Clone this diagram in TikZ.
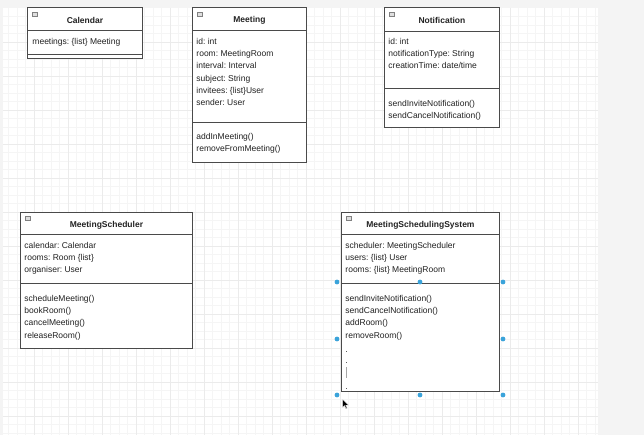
\documentclass[tikz,border=0pt]{standalone}
\usepackage{fontspec}
\setmainfont{Liberation Sans}
\usetikzlibrary{positioning}
\definecolor{umlline}{HTML}{4A4A4A}
\definecolor{umltext}{HTML}{222222}
\definecolor{handleblue}{HTML}{3AA3DA}
\definecolor{gridminor}{HTML}{F5F5F5}
\definecolor{gridmajor}{HTML}{EBEBEB}
\definecolor{canvasgray}{HTML}{F4F4F4}
\frenchspacing

\begin{document}
\begin{tikzpicture}
[x=1pt, y=-1pt, font=\fontsize{8.5}{10}\selectfont, line width=0.9pt,
part/.style={rectangle, draw=umlline, fill=white, inner sep=0pt, anchor=north west},
title/.style={inner sep=0pt, text=umltext, font=\fontsize{8.5}{10}\selectfont\bfseries},
field/.style={anchor=west, inner sep=0pt, text height=6.2pt, text depth=1.8pt, text=umltext},
fold/.style={rectangle, draw=gray, fill=gray!25, line width=0.4pt, inner sep=0pt, minimum size=4.5pt, anchor=north west},
handle/.style={circle, fill=handleblue, inner sep=0pt, minimum size=4.8pt}]

\useasboundingbox (0,0) rectangle (644,435);

% canvas and grid
\fill[canvasgray] (0,0) rectangle (644,435);
\fill[white] (3,8) rectangle (598,435);
\foreach \i in {1,...,70} {
  \draw[gridminor, line width=0.4pt] (\i*8.5,8) -- (\i*8.5,435);
}
\foreach \i in {1,...,50} {
  \draw[gridminor, line width=0.4pt] (3,8+\i*8.5) -- (598,8+\i*8.5);
}
\foreach \i in {1,...,17} {
  \draw[gridmajor, line width=0.5pt] (\i*34,8) -- (\i*34,435);
}
\foreach \i in {1,...,12} {
  \draw[gridmajor, line width=0.5pt] (3,8+\i*34) -- (598,8+\i*34);
}

% Calendar
\node[part, minimum width=115pt, minimum height=23pt] (calhead) at (27,7) {};
\node[part, minimum width=115pt, minimum height=24pt] (calattr) at (27,30) {};
\node[part, minimum width=115pt, minimum height=4pt] (calops) at (27,54) {};
\node[fold] (calfold) at (32,12) {};
\node[title] (caltitle) at ([yshift=-1.5pt]calhead.center) {Calendar};
\node[field] (calattr1) at (32,42) {meetings: \{list\} Meeting};

% Meeting
\node[part, minimum width=114pt, minimum height=23pt] (meethead) at (192,7) {};
\node[part, minimum width=114pt, minimum height=92pt] (meetattr) at (192,30) {};
\node[part, minimum width=114pt, minimum height=40pt] (meetops) at (192,122) {};
\node[fold] (meetfold) at (197,12) {};
\node[title] (meettitle) at ([yshift=-1.5pt]meethead.center) {Meeting};
\foreach \t [count=\i] in {{id: int}, {room: MeetingRoom}, {interval: Interval}, {subject: String}, {invitees: \{list\}User}, {sender: User}} {
  \node[field] (meetattr\i) at (196,{42+12.3*(\i-1)}) {\t};
}
\foreach \t [count=\i] in {{addInMeeting()}, {removeFromMeeting()}} {
  \node[field] (meetop\i) at (196,{137+12.3*(\i-1)}) {\t};
}

% Notification
\node[part, minimum width=115pt, minimum height=24pt] (notifhead) at (384,7) {};
\node[part, minimum width=115pt, minimum height=57pt] (notifattr) at (384,31) {};
\node[part, minimum width=115pt, minimum height=39pt] (notifops) at (384,88) {};
\node[fold] (notiffold) at (389,12) {};
\node[title] (notiftitle) at ([yshift=-1.5pt]notifhead.center) {Notification};
\foreach \t [count=\i] in {{id: int}, {notificationType: String}, {creationTime: date/time}} {
  \node[field] (notifattr\i) at (388,{42+12.3*(\i-1)}) {\t};
}
\foreach \t [count=\i] in {{sendInviteNotification()}, {sendCancelNotification()}} {
  \node[field] (notifop\i) at (388,{104+12.3*(\i-1)}) {\t};
}

% MeetingScheduler
\node[part, minimum width=172pt, minimum height=22pt] (schedhead) at (20,212) {};
\node[part, minimum width=172pt, minimum height=49pt] (schedattr) at (20,234) {};
\node[part, minimum width=172pt, minimum height=65pt] (schedops) at (20,283) {};
\node[fold] (schedfold) at (25,216) {};
\node[title] (schedtitle) at ([yshift=-1.5pt]schedhead.center) {MeetingScheduler};
\foreach \t [count=\i] in {{calendar: Calendar}, {rooms: Room \{list\}}, {organiser: User}} {
  \node[field] (schedattr\i) at (24,{246+12.3*(\i-1)}) {\t};
}
\foreach \t [count=\i] in {{scheduleMeeting()}, {bookRoom()}, {cancelMeeting()}, {releaseRoom()}} {
  \node[field] (schedop\i) at (24,{299+12.3*(\i-1)}) {\t};
}

% MeetingSchedulingSystem
\node[part, minimum width=158pt, minimum height=22pt] (syshead) at (341,212) {};
\node[part, minimum width=158pt, minimum height=49pt] (sysattr) at (341,234) {};
\node[part, minimum width=158pt, minimum height=108pt] (sysops) at (341,283) {};
\node[fold] (sysfold) at (346,216) {};
\node[title] (systitle) at ([yshift=-1.5pt]syshead.center) {MeetingSchedulingSystem};
\foreach \t [count=\i] in {{scheduler: MeetingScheduler}, {users: \{list\} User}, {rooms: \{list\} MeetingRoom}} {
  \node[field] (sysattr\i) at (345,{246+12.3*(\i-1)}) {\t};
}
\foreach \t [count=\i] in {{sendInviteNotification()}, {sendCancelNotification()}, {addRoom()}, {removeRoom()}} {
  \node[field] (sysop\i) at (345,{299+12.3*(\i-1)}) {\t};
}
\node[field, anchor=base west] (sysdot1) at (345,352) {.};
\node[field, anchor=base west] (sysdot2) at (345,363) {.};
\draw[gray!70, line width=0.5pt] (346.3,367) -- (346.3,378);
\node[field, anchor=base west] (sysdot3) at (345,389) {.};

% selection handles
\foreach \hx/\hy in {337/282, 420/282, 503/282, 337/339, 503/339, 337/395, 420/395, 503/395} {
  \node[handle] (grip\hx\hy) at (\hx,\hy) {};
}

% mouse pointer
\filldraw[fill=black, draw=white, line width=0.4pt] (342.5,399) -- (342.5,407.5) -- (344.5,405.6) -- (346,408.8) -- (347.2,408.3) -- (345.8,405.2) -- (348.5,405.2) -- cycle;
\end{tikzpicture}
\end{document}
